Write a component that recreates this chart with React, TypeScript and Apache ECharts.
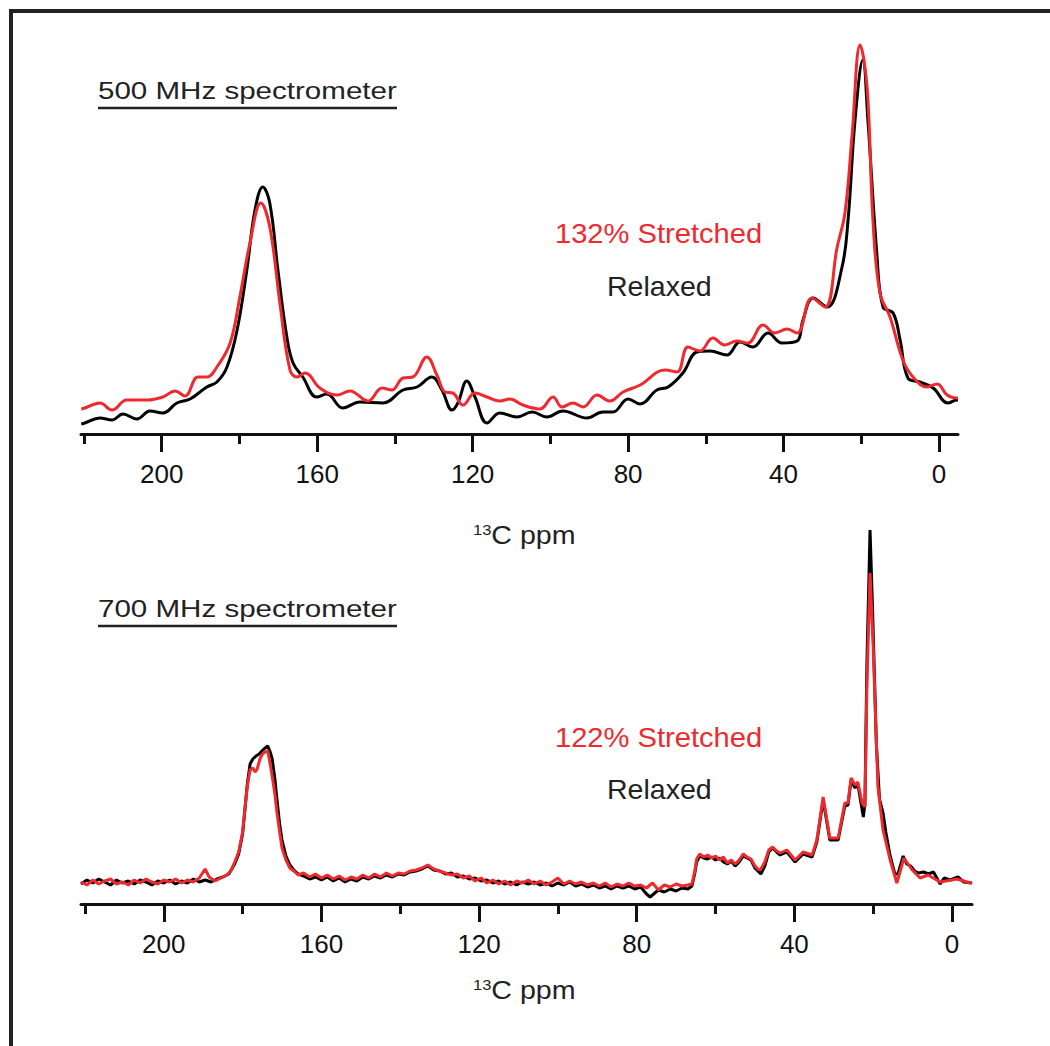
import React, { useEffect, useRef } from "react";
import * as echarts from "echarts";

const FONT = "'Liberation Sans', Arial, Helvetica, sans-serif";
const RED = "#ee2a2e";

const majorTicks = [0, 40, 80, 120, 160, 200];
const minorTicks = [20, 60, 100, 140, 180, 220];

// 500 MHz, relaxed (black): [ppm, intensity]
const relaxed500: [number, number][] = [
  [220.7, 10], [219.8, 11], [215.9, 16], [212.8, 14], [210.0, 20], [206.4, 15], [203.0, 23], [199.7, 21],
  [196.1, 31], [192.7, 35], [188.4, 47], [185.8, 52], [183.2, 67], [180.6, 104], [178.1, 164], [176.0, 224],
  [174.0, 247], [172.2, 231], [170.1, 164], [167.8, 97], [166.2, 71], [163.7, 57], [160.1, 37], [157.5, 40],
  [153.4, 26], [149.0, 32], [143.1, 31], [137.9, 44], [134.3, 47], [130.5, 57], [127.9, 44], [125.3, 24],
  [123.8, 31], [121.5, 53], [119.4, 37], [116.3, 11], [113.0, 21], [108.6, 17], [104.7, 22], [100.9, 17],
  [96.8, 23], [90.6, 16], [86.5, 22], [83.9, 22], [80.0, 35], [76.9, 30], [72.6, 44], [69.7, 47],
  [65.9, 61], [62.3, 82], [58.9, 83], [54.6, 79], [51.2, 92], [47.9, 87], [44.0, 101], [40.4, 91],
  [36.5, 93], [35.0, 114], [32.4, 136], [28.8, 127], [25.0, 166], [23.4, 214], [21.6, 314], [19.6, 374],
  [18.3, 314], [16.0, 181], [14.4, 127], [11.8, 121], [10.0, 94], [8.0, 56], [4.9, 52], [1.5, 46],
  [-2.3, 31], [-4.6, 34], [-4.9, 34],
];

// 500 MHz, 132% stretched (red)
const stretched500: [number, number][] = [
  [220.7, 25], [219.8, 26], [215.9, 31], [212.8, 24], [209.0, 34], [203.8, 34], [199.7, 37], [196.6, 43],
  [194.0, 38], [190.7, 57], [188.4, 57], [185.8, 67], [182.4, 91], [179.9, 137], [177.3, 191], [174.5, 231],
  [172.2, 207], [169.6, 131], [167.0, 64], [165.2, 57], [163.1, 61], [159.3, 46], [154.9, 39], [151.6, 43],
  [146.9, 33], [143.3, 46], [140.8, 44], [137.9, 56], [135.4, 57], [131.8, 77], [129.2, 59], [127.1, 42],
  [125.1, 41], [122.5, 29], [119.4, 41], [116.3, 37], [113.0, 33], [110.4, 35], [107.1, 29], [102.7, 25],
  [99.3, 37], [97.0, 27], [94.2, 31], [91.6, 27], [88.0, 39], [84.7, 33], [81.3, 42], [76.9, 49],
  [70.5, 64], [67.4, 62], [64.6, 87], [61.5, 83], [58.2, 96], [55.1, 89], [52.0, 93], [49.2, 91],
  [45.3, 109], [42.2, 101], [39.1, 105], [36.5, 101], [32.7, 136], [29.3, 127], [26.2, 187], [24.2, 221],
  [22.4, 297], [20.3, 389], [18.5, 347], [17.0, 214], [15.2, 141], [12.6, 117], [9.3, 74], [6.7, 57],
  [3.1, 47], [0.5, 50], [-2.1, 39], [-4.6, 36], [-4.9, 36],
];

// 700 MHz, relaxed (black)
const relaxed700: [number, number][] = [
  [221.0, 20], [219.5, 24], [218, 21], [216.5, 25], [215, 22], [213.5, 19], [212, 24], [210.5, 21],
  [209, 23], [207.5, 20], [206, 24], [204.5, 22], [203, 19], [201.5, 23], [200, 21], [198.5, 24],
  [197, 20], [195.5, 23], [194, 21], [192.5, 25], [191, 22], [189.5, 24], [188, 22], [186.5, 25],
  [185, 27], [183.5, 30], [182, 40], [181, 50], [180, 70], [179.4, 95], [178.8, 120], [178.1, 140],
  [177.4, 145], [176.6, 148], [175.8, 150], [175.1, 153], [174.3, 156], [173.6, 158], [173.0, 152], [172.5, 145],
  [171.8, 125], [171.3, 105], [170.6, 80], [170.0, 64], [169.0, 48], [168.0, 39], [167.0, 34], [165.9, 30],
  [164.5, 28], [163, 25], [161.5, 27], [160, 24], [158.5, 27], [157, 23], [155.5, 26], [154, 22],
  [152.5, 25], [151, 23], [149.5, 27], [148, 25], [146.5, 28], [145, 26], [143.5, 29], [142, 27],
  [140.5, 30], [139, 29], [137.5, 32], [136, 33], [134.5, 35], [133, 38], [131.5, 34], [130, 33],
  [128.5, 30], [127, 31], [125.5, 27], [124, 28], [122.5, 25], [121, 26], [119.5, 23], [118, 24],
  [116.5, 21], [115, 23], [113.5, 20], [112, 22], [110.5, 19], [109, 22], [107.5, 20], [106, 22],
  [104.5, 19], [103, 21], [101.5, 18], [100, 21], [98.5, 19], [97, 22], [95.5, 18], [94, 20],
  [92.5, 17], [91, 19], [89.5, 16], [88, 18], [86.5, 15], [85, 18], [83.5, 16], [82, 18],
  [80.5, 15], [79, 17], [77.5, 10], [76.6, 7], [76, 9], [74.5, 14], [73, 12], [71.5, 15],
  [70, 13], [68.5, 16], [67, 15], [66, 18], [65.3, 30], [64.8, 42], [64, 48], [63, 46],
  [62, 45], [61, 47], [60, 44], [59, 46], [58, 42], [57, 40], [56, 43], [55, 38],
  [54, 42], [53, 48], [52, 46], [51, 44], [50, 36], [49, 32], [48.5, 30], [47.5, 38],
  [46.5, 52], [45.5, 56], [44.5, 52], [43.6, 49], [41.9, 52], [39.8, 42], [37.8, 50], [35.5, 47],
  [34.3, 62], [32.7, 104], [31.0, 64], [28.9, 64], [27.2, 98], [26.4, 99], [25.6, 124], [24.6, 116],
  [23.9, 120], [22.5, 87], [22.1, 100], [21.6, 240], [20.8, 374], [20.2, 300], [19.2, 160], [18.4, 105],
  [17.5, 91], [16.8, 72], [15.7, 48], [14.5, 30], [13.7, 30], [12.4, 48], [11.5, 40], [10.5, 38],
  [9.5, 33], [8.5, 31], [7.2, 32], [6, 30], [4.7, 32], [3.0, 20], [2, 26], [0.5, 24],
  [-1.5, 27], [-3, 22], [-5.07, 21],
];

// 700 MHz, 122% stretched (red)
const stretched700: [number, number][] = [
  [221.0, 22], [219.5, 19], [218, 24], [216.5, 20], [215, 23], [213.5, 25], [212, 20], [210.5, 22],
  [209, 19], [207.5, 24], [206, 21], [204.5, 25], [203, 22], [201.5, 20], [200, 24], [198.5, 22],
  [197, 25], [195.5, 21], [194, 24], [192.5, 22], [191, 26], [189.5, 35], [188.5, 27], [187, 23],
  [185.5, 26], [184, 29], [183, 33], [182, 42], [181, 52], [180, 72], [179.4, 95], [178.8, 118],
  [178.1, 134], [177.4, 136], [176.8, 132], [176.3, 135], [175.6, 145], [175, 150], [174.3, 152], [173.6, 153],
  [173, 140], [172.5, 128], [171.8, 110], [171.3, 92], [170.6, 72], [170, 56], [169, 44], [168, 36],
  [167, 33], [165.9, 29], [164.5, 31], [163, 27], [161.5, 30], [160, 26], [158.5, 29], [157, 25],
  [155.5, 28], [154, 24], [152.5, 27], [151, 25], [149.5, 29], [148, 26], [146.5, 30], [145, 27],
  [143.5, 31], [142, 28], [140.5, 31], [139, 30], [137.5, 33], [136, 34], [134.5, 36], [133, 39],
  [131.5, 35], [130, 33], [128.5, 31], [127, 29], [125.5, 30], [124, 26], [122.5, 28], [121, 23],
  [119.5, 26], [118, 21], [116.5, 24], [115, 20], [113.5, 23], [112, 19], [110.5, 23], [109, 21],
  [107.5, 24], [106, 20], [104.5, 23], [103, 19], [101.5, 22], [100, 26], [98.5, 20], [97, 23],
  [95.5, 20], [94, 22], [92.5, 19], [91, 21], [89.5, 18], [88, 21], [86.5, 17], [85, 20],
  [83.5, 18], [82, 21], [80.5, 18], [79, 19], [77.5, 16], [76, 21], [74.5, 14], [73, 19],
  [71.5, 17], [70, 20], [68.5, 18], [67, 19], [66, 20], [65.3, 32], [64.8, 45], [64, 50],
  [63, 47], [62, 49], [61, 46], [60, 48], [59, 44], [58, 47], [57, 41], [56, 44],
  [55, 40], [54, 44], [53, 50], [52, 47], [51, 45], [50, 38], [49, 34], [48.5, 35],
  [47.5, 42], [46.5, 54], [45.5, 57], [44.5, 53], [43.6, 51], [41.9, 54], [39.8, 44], [37.8, 52],
  [35.5, 49], [34.3, 64], [32.7, 107], [31.0, 66], [28.9, 66], [27.2, 101], [26.4, 101], [25.6, 126],
  [24.6, 119], [23.9, 122], [22.8, 101], [22.1, 97], [21.6, 217], [20.8, 331], [20.0, 257], [18.8, 117],
  [17.5, 74], [15.7, 44], [14.0, 21], [12.2, 46], [10.1, 34], [8.1, 26], [6.1, 29], [3.0, 22],
  [-1.3, 25], [-4.6, 21], [-5.07, 22],
];

function axisPair(gridIndex: number, min: number, max: number) {
  const base = {
    type: "value" as const,
    gridIndex,
    min,
    max,
    inverse: true,
    position: "bottom" as const,
    splitLine: { show: false },
  };
  return [
    {
      ...base,
      axisLine: { show: true, onZero: false, lineStyle: { color: "#111", width: 3 } },
      axisTick: { show: true, inside: false, length: 18, customValues: majorTicks, lineStyle: { color: "#111", width: 3 } },
      axisLabel: { show: true, customValues: majorTicks, margin: 27, fontSize: 26, color: "#111", fontFamily: FONT },
    },
    {
      ...base,
      axisLine: { show: false, onZero: false },
      axisTick: { show: true, inside: false, length: 10, customValues: minorTicks, lineStyle: { color: "#111", width: 3 } },
      axisLabel: { show: false },
    },
  ];
}

function lineSeries(data: [number, number][], axisIndex: number, color: string, smooth: number | boolean) {
  return {
    type: "line",
    xAxisIndex: axisIndex,
    yAxisIndex: axisIndex === 0 ? 0 : 1,
    data,
    smooth,
    showSymbol: false,
    symbol: "none",
    lineStyle: { color, width: 3 },
    itemStyle: { color },
    emphasis: { disabled: true },
  };
}

function label(text: string, x: number, y: number, size: number, color: string, scaleX = 1) {
  return {
    type: "text",
    x,
    y,
    scaleX,
    style: {
      text,
      x: 0,
      y: 0,
      fill: color,
      font: `${size}px ${FONT}`,
      textAlign: "left",
      textVerticalAlign: "middle",
      align: "left",
      verticalAlign: "middle",
    },
  };
}

function axisTitle(x: number, y: number) {
  return {
    type: "text",
    x,
    y,
    scaleX: 1.1,
    style: {
      text: "{s|13}{b|C ppm}",
      x: 0,
      y: 0,
      fill: "#222",
      font: `26px ${FONT}`,
      textAlign: "left",
      textVerticalAlign: "middle",
      align: "left",
      verticalAlign: "middle",
      rich: {
        s: { fontSize: 15, fontFamily: FONT, fill: "#222", color: "#222", verticalAlign: "top" },
        b: { fontSize: 26, fontFamily: FONT, fill: "#222", color: "#222" },
      },
    },
  };
}

export default function App() {
  const ref = useRef<HTMLDivElement>(null);
  useEffect(() => {
    if (!ref.current) return;
    const chart = echarts.init(ref.current, null, { renderer: "svg" });
    const top = axisPair(0, -4.89, 220.77);
    const bottom = axisPair(1, -5.07, 221.0);
    const option: any = {
      animation: false,
      backgroundColor: "#fff",
      textStyle: { fontFamily: FONT },
      grid: [
        { left: 81, right: 92, top: 34, height: 400 },
        { left: 81, right: 78, top: 504, height: 400 },
      ],
      xAxis: [top[0], top[1], bottom[0], bottom[1]],
      yAxis: [
        { type: "value", gridIndex: 0, min: 0, max: 400, show: false },
        { type: "value", gridIndex: 1, min: 0, max: 400, show: false },
      ],
      series: [
        { ...lineSeries(relaxed500, 0, "#000", 0.4), name: "Relaxed 500" },
        { ...lineSeries(stretched500, 0, RED, 0.4), name: "Stretched 500" },
        { ...lineSeries(relaxed700, 2, "#000", false), name: "Relaxed 700", yAxisIndex: 1 },
        { ...lineSeries(stretched700, 2, RED, false), name: "Stretched 700", yAxisIndex: 1 },
      ],
      graphic: [
        {
          type: "rect",
          shape: { x: 11, y: 11, width: 1100, height: 1100 },
          style: { fill: "none", stroke: "#222", lineWidth: 4 },
          silent: true,
        },
        label("500 MHz spectrometer", 98, 91, 23, "#222", 1.285),
        { type: "line", shape: { x1: 98, y1: 108, x2: 397, y2: 108 }, style: { stroke: "#222", lineWidth: 2.5 } },
        label("132% Stretched", 555, 233, 28, RED, 1.04),
        label("Relaxed", 607, 286, 28, "#222", 1.02),
        axisTitle(473, 535),
        label("700 MHz spectrometer", 98, 609, 23, "#222", 1.285),
        { type: "line", shape: { x1: 98, y1: 626, x2: 397, y2: 626 }, style: { stroke: "#222", lineWidth: 2.5 } },
        label("122% Stretched", 555, 737, 28, RED, 1.04),
        label("Relaxed", 607, 789, 28, "#222", 1.02),
        axisTitle(473, 990),
      ],
    };
    chart.setOption(option);
    return () => chart.dispose();
  }, []);
  return (
    <div
      ref={ref}
      style={{ position: "fixed", left: 0, top: 0, width: 1050, height: 1046, background: "#fff" }}
    />
  );
}
